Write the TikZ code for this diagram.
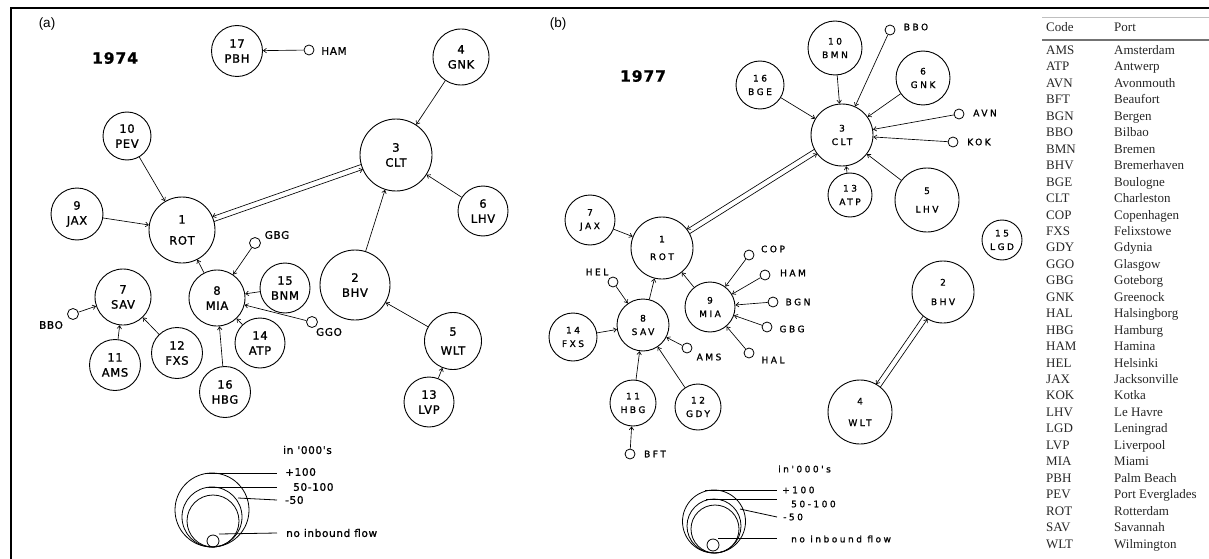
\documentclass[tikz,border=0pt]{standalone}
\usepackage{fontspec}
\setmainfont{Liberation Serif}
\newfontfamily\letA[LetterSpace=6,FakeBold=1.2]{DejaVu Sans}
\newfontfamily\letB[LetterSpace=28,FakeBold=1.2]{DejaVu Sans}
\newfontfamily\panelfont{Liberation Sans}
\usetikzlibrary{arrows.meta,calc}
\newcommand\dblflow[4]{%
  \draw[flow,shorten <=#3pt,shorten >=#4pt] ($(#1)!2.6pt!-90:(#2)$) -- ($(#2)!2.6pt!90:(#1)$);
  \draw[flow,shorten <=#4pt,shorten >=#3pt] ($(#2)!2.6pt!-90:(#1)$) -- ($(#1)!2.6pt!90:(#2)$);}
\begin{document}
\begin{tikzpicture}[x=1pt,y=-1pt,
  porta/.style={circle,draw,line width=0.9pt,inner sep=0pt,align=center,font=\letA\fontsize{11.5}{15}\selectfont},
  portb/.style={circle,draw,line width=0.9pt,inner sep=0pt,align=center,font=\letB\fontsize{9}{13.5}\selectfont},
  sm/.style={circle,draw,line width=0.8pt,inner sep=0pt,minimum size=10pt},
  laba/.style={font=\letA\fontsize{10.5}{12}\selectfont,inner sep=0pt},
  labb/.style={font=\letB\fontsize{9}{11}\selectfont,inner sep=0pt},
  flow/.style={-{Straight Barb[length=3pt,width=4.5pt]},line width=0.65pt},
  year/.style={font=\letA\bfseries\fontsize{15.5}{18}\selectfont},
  panel/.style={font=\panelfont\fontsize{13.5}{15}\selectfont},
  tab/.style={font=\fontsize{13}{15}\selectfont,inner sep=0pt,anchor=base west,text=black!85},
  leg/.style={line width=0.8pt},
]
\useasboundingbox (0,0) rectangle (1209,559);
% frame
\draw[line width=1.7pt] (10,8) -- (1209,8);
\draw[line width=1.7pt] (11,8) -- (11,559);

% ================= panel (a) =================
\node[panel] (pa) at (47,24) {(a)};
\node[year] (ya) at (115,58) {1974};
\node[porta,minimum size=51pt] (apbh) at (237,51) {17\\PBH};
\node[sm] (aham) at (309,50) {};
\node[laba] (tham) at (334,51) {HAM};
\node[porta,minimum size=56pt] (agnk) at (461,57) {4\\GNK};
\node[porta,minimum size=48pt] (apev) at (127,136) {10\\PEV};
\node[porta,minimum size=72pt] (aclt) at (396,155) {3\\CLT};
\node[porta,minimum size=52pt] (ajax) at (77,214) {9\\JAX};
\node[porta,minimum size=66pt] (arot) at (182,230) {1\\[6pt]ROT};
\node[porta,minimum size=50pt] (alhv) at (483,211) {6\\LHV};
\node[sm,minimum size=11pt] (agbg) at (255,243) {};
\node[laba] (tagbg) at (277,235) {GBG};
\node[porta,minimum size=50pt] (abnm) at (285,288) {15\\BNM};
\node[porta,minimum size=70pt] (abhv) at (355,285) {2\\BHV};
\node[porta,minimum size=56pt] (asav) at (123,297) {7\\SAV};
\node[porta,minimum size=56pt] (amia) at (217,298) {8\\MIA};
\node[sm,minimum size=11pt] (abbo) at (73,314) {};
\node[laba] (tabbo) at (51,325) {BBO};
\node[porta,minimum size=50pt] (aatp) at (260,343) {14\\ATP};
\node[sm,minimum size=11pt] (aggo) at (312,322) {};
\node[laba] (taggo) at (329,332) {GGO};
\node[porta,minimum size=51pt] (aams) at (115,365) {11\\AMS};
\node[porta,minimum size=51pt] (afxs) at (177,353) {12\\FXS};
\node[porta,minimum size=51pt] (ahbg) at (225,392) {16\\HBG};
\node[porta,minimum size=57pt] (awlt) at (453,341) {5\\[4pt]WLT};
\node[porta,minimum size=50pt] (alvp) at (429,402) {13\\LVP};

\draw[flow] (aham) -- (apbh);
\draw[flow] (agnk) -- (aclt);
\draw[flow] (apev) -- (arot);
\draw[flow] (ajax) -- (arot);
\dblflow{arot}{aclt}{33}{36}
\draw[flow] (alhv) -- (aclt);
\draw[flow] (abhv) -- (aclt);
\draw[flow] (amia) -- (arot);
\draw[flow] (agbg) -- (amia);
\draw[flow] (abnm) -- (amia);
\draw[flow] (aggo) -- (amia);
\draw[flow] (aatp) -- (amia);
\draw[flow] (ahbg) -- (amia);
\draw[flow] (abbo) -- (asav);
\draw[flow] (aams) -- (asav);
\draw[flow] (afxs) -- (asav);
\draw[flow] (awlt) -- (abhv);
\draw[flow] (alvp) -- (awlt);

% legend (a)
\draw[leg] (212,510) circle (37);
\draw[leg] (212,517) circle (30);
\draw[leg] (213,521) circle (26);
\draw[leg] (213,541) circle (6);
\draw[leg] (205,473) -- (277,473);
\draw[leg] (208,487) -- (277,487);
\draw[leg] (238,498) -- (277,500);
\draw[leg] (219,534) -- (277,533);
\node[laba,anchor=west] (lina) at (283,450) {in '000's};
\node[laba,anchor=west] (l1a) at (285,472) {+100};
\node[laba,anchor=west] (l2a) at (293,487) {50-100};
\node[laba,anchor=west] (l3a) at (285,500) {-50};
\node[laba,anchor=west] (l4a) at (286,533) {no inbound flow};

% ================= panel (b) =================
\node[panel] (pb) at (558,24) {(b)};
\node[year] (yb) at (643,76) {1977};
\node[portb,minimum size=54pt] (bbmn) at (835,48) {10\\BMN};
\node[sm] (bbbo) at (890,30) {};
\node[labb] (tbbbo) at (916,27) {BBO};
\node[portb,minimum size=48pt] (bbge) at (760,85) {16\\BGE};
\node[portb,minimum size=54pt] (bgnk) at (923,78) {6\\GNK};
\node[portb,minimum size=62pt] (bclt) at (842,135) {3\\CLT};
\node[sm] (bavn) at (959,114) {};
\node[labb] (tbavn) at (985,113) {AVN};
\node[sm] (bkok) at (953,142) {};
\node[labb] (tbkok) at (979,142) {KOK};
\node[portb,minimum size=44pt] (batp) at (850,195) {13\\ATP};
\node[portb,minimum size=64pt] (blhv) at (927,200) {5\\[5pt]LHV};
\node[portb,minimum size=50pt] (bjax) at (590,220) {7\\JAX};
\node[portb,minimum size=62pt] (brot) at (662,248) {1\\[4pt]ROT};
\node[portb,minimum size=40pt] (blgd) at (1002,240) {15\\LGD};
\node[sm] (bcop) at (749,255) {};
\node[labb] (tbcop) at (773,249) {COP};
\node[sm] (bham) at (765,275) {};
\node[labb] (tbham) at (793,273) {HAM};
\node[portb,minimum size=62pt] (bbhv) at (943,292) {2\\[6pt]BHV};
\node[sm] (bhel) at (613,282) {};
\node[labb] (tbhel) at (597,272) {HEL};
\node[portb,minimum size=50pt] (bmia) at (710,307) {9\\MIA};
\node[sm] (bbgn) at (773,302) {};
\node[labb] (tbbgn) at (798,302) {BGN};
\node[portb,minimum size=52pt] (bsav) at (643,325) {8\\SAV};
\node[sm] (bgbg) at (767,327) {};
\node[labb] (tbgbg) at (792,329) {GBG};
\node[portb,minimum size=48pt] (bfxs) at (573,337) {14\\FXS};
\node[sm] (bams) at (687,348) {};
\node[labb] (tbams) at (709,357) {AMS};
\node[sm] (bhal) at (749,353) {};
\node[labb] (tbhal) at (773,360) {HAL};
\node[portb,minimum size=46pt] (bhbg) at (633,403) {11\\HBG};
\node[portb,minimum size=46pt] (bgdy) at (698,407) {12\\GDY};
\node[portb,minimum size=64pt] (bwlt) at (860,412) {4\\[8pt]WLT};
\node[sm] (bbft) at (630,454) {};
\node[labb] (tbbft) at (655,454) {BFT};

\foreach \s in {bbmn,bbbo,bbge,bgnk,bavn,bkok,batp,blhv} \draw[flow] (\s) -- (bclt);
\dblflow{brot}{bclt}{31}{31}
\foreach \s in {bjax,bsav,bmia} \draw[flow] (\s) -- (brot);
\foreach \s in {bcop,bham,bbgn,bgbg,bhal} \draw[flow] (\s) -- (bmia);
\foreach \s in {bhel,bfxs,bams,bgdy,bhbg} \draw[flow] (\s) -- (bsav);
\draw[flow] (bbft) -- (bhbg);
\dblflow{bbhv}{bwlt}{31}{32}

% legend (b)
\draw[leg] (714,521.5) circle (31.5);
\draw[leg] (714,526) circle (27);
\draw[leg] (715,529) circle (24);
\draw[leg] (713,545) circle (6);
\draw[leg] (705,490) -- (777,490);
\draw[leg] (706,499.5) -- (777,499.5);
\draw[leg] (740,509) -- (777,517);
\draw[leg] (718,538) -- (777,538);
\node[labb,anchor=west] (linb) at (778,469) {in'000's};
\node[labb,anchor=west] (l1b) at (782,490) {+100};
\node[labb,anchor=west] (l2b) at (791,504) {50-100};
\node[labb,anchor=west] (l3b) at (783,517) {-50};
\node[labb,anchor=west] (l4b) at (791,539) {no inbound flow};

% ================= table =================
\draw[black!25,line width=0.8pt] (1042,17) -- (1209,17);
\draw[black!55,line width=1.3pt] (1042,40) -- (1209,40);
\node[tab] (hcode) at (1046,32) {Code};
\node[tab] (hport) at (1114,32) {Port};
\foreach \c/\p [count=\i from 0] in {AMS/Amsterdam,ATP/Antwerp,AVN/Avonmouth,BFT/Beaufort,BGN/Bergen,BBO/Bilbao,BMN/Bremen,BHV/Bremerhaven,BGE/Boulogne,CLT/Charleston,COP/Copenhagen,FXS/Felixstowe,GDY/Gdynia,GGO/Glasgow,GBG/Goteborg,GNK/Greenock,HAL/Halsingborg,HBG/Hamburg,HAM/Hamina,HEL/Helsinki,JAX/Jacksonville,KOK/Kotka,LHV/Le Havre,LGD/Leningrad,LVP/Liverpool,MIA/Miami,PBH/Palm Beach,PEV/Port Everglades,ROT/Rotterdam,SAV/Savannah,WLT/Wilmington}{
  \node[tab] (tc\i) at (1046,{54.5+16.45*\i}) {\c};
  \node[tab] (tp\i) at (1114,{54.5+16.45*\i}) {\p};
}
\end{tikzpicture}
\end{document}
